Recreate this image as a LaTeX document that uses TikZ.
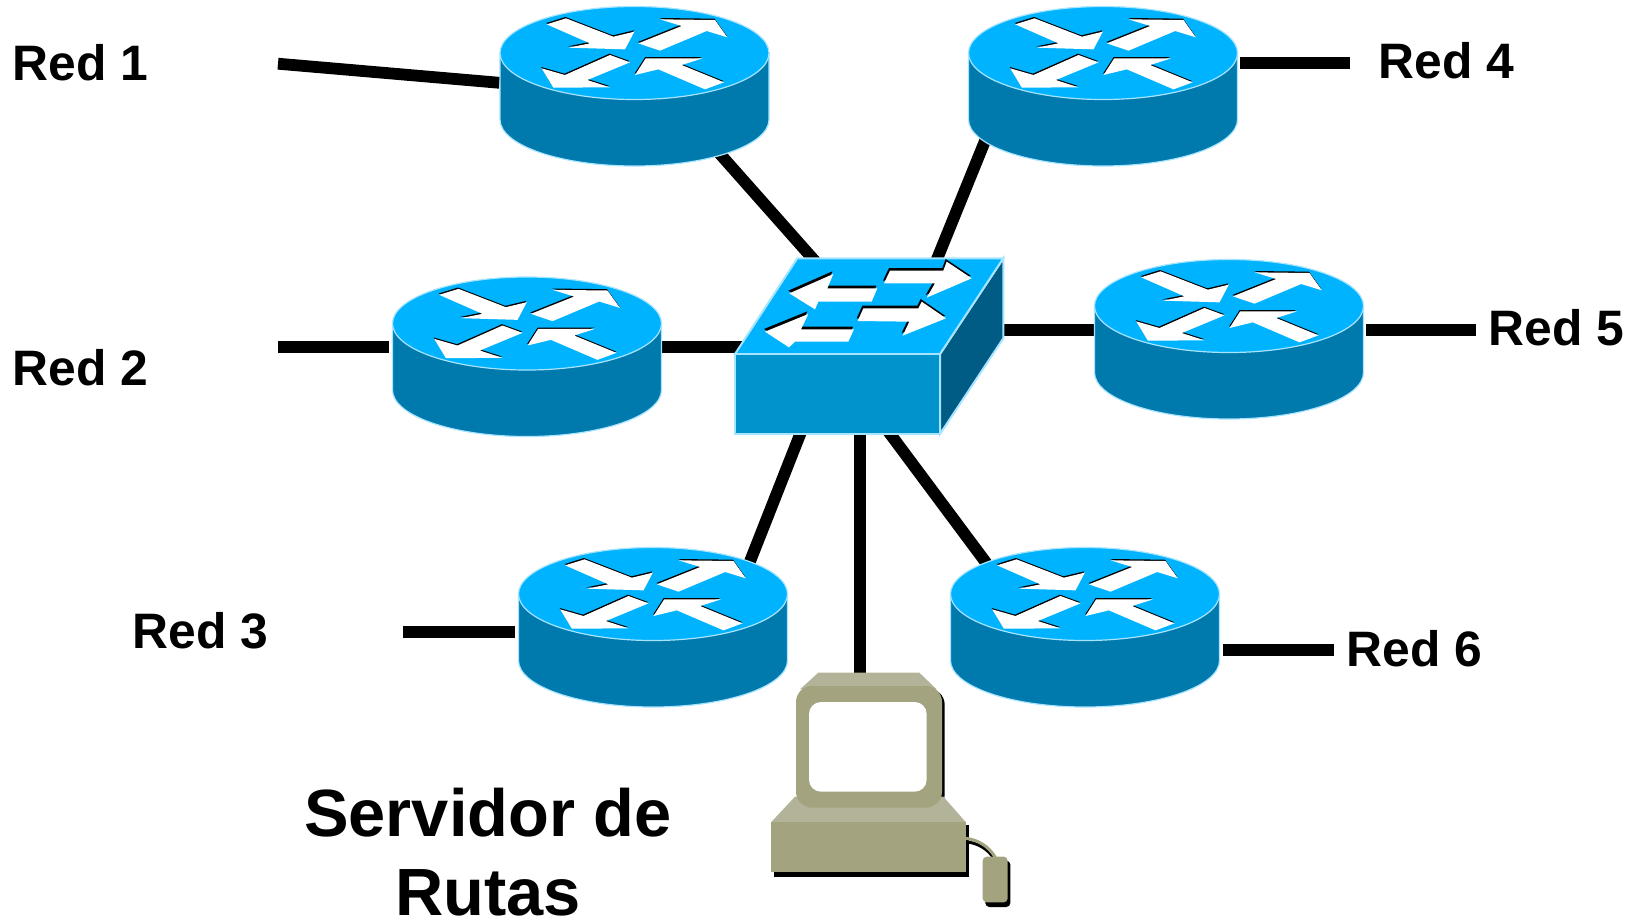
\documentclass[tikz,border=0pt]{standalone}
\usepackage{fontspec}
\setmainfont{Liberation Sans}
\usetikzlibrary{calc}
\definecolor{topblue}{HTML}{00B3FF}
\definecolor{sideblue}{HTML}{0079AD}
\definecolor{frontblue}{HTML}{0093CC}
\definecolor{darkblue}{HTML}{005B85}
\definecolor{edgeblue}{HTML}{A6E4FF}
\definecolor{pclight}{HTML}{B3B399}
\definecolor{pcdark}{HTML}{A3A380}
\newcommand{\flecha}[1]{\fill[black,shift={(-1.5,-4)}] #1 -- cycle; \fill[white] #1 -- cycle;}
\newcommand{\flechab}[1]{\fill[black,shift={(-3,-8)}] #1 -- cycle; \fill[white] #1 -- cycle;}
\tikzset{
 x=0.5pt,y=-0.5pt,
 wire/.style={line width=5.9pt,black},
 routerbox/.style={minimum width=134.5pt,minimum height=79.5pt,inner sep=0pt},
 netlabel/.style={anchor=base west,inner sep=0pt,font=\fontsize{24.9}{29}\selectfont\bfseries},
 srvlabel/.style={anchor=base,inner sep=0pt,font=\fontsize{33.4}{40}\selectfont},
 routericon/.pic={
  \filldraw[fill=sideblue,draw=edgeblue,line width=0.6pt] (-134.5,0) -- (-134.5,66.5) arc[start angle=180,end angle=0,x radius=134.5,y radius=46.5] -- (134.5,0) -- cycle;
  \filldraw[fill=topblue,draw=edgeblue,line width=0.6pt] (0,0) ellipse[x radius=134.5,y radius=46.5];
  \begin{scope}[scale=1/3,shift={(-463.5,-159)}]
  \flecha{(200,73) -- (258,55) -- (400,110) -- (463,95) -- (435,148) -- (265,143) -- (330,130)}
  \flecha{(475,130) -- (605,78) -- (540,58) -- (705,60) -- (742,112) -- (680,93) -- (540,152)}
  \flecha{(450,187) -- (390,165) -- (255,225) -- (185,205) -- (220,263) -- (390,262) -- (322,240)}
  \flecha{(465,225) -- (497,175) -- (668,175) -- (605,195) -- (732,247) -- (675,268) -- (535,208)}
  \end{scope}
 }
}
\begin{document}
\begin{tikzpicture}
\useasboundingbox (0,0) rectangle (1638,922);
% invisible named nodes
\node[routerbox] (r1) at (634.5,86) {};
\node[routerbox] (r2) at (527,356.5) {};
\node[routerbox] (r3) at (653,627) {};
\node[routerbox] (r4) at (1103,86) {};
\node[routerbox] (r5) at (1229,339) {};
\node[routerbox] (r6) at (1085,627) {};
\node[minimum width=134pt,minimum height=88pt,inner sep=0pt] (sw) at (869,346) {};
\node[minimum width=120pt,minimum height=118pt,inner sep=0pt] (srv) at (890,790) {};
\coordinate (n1) at (278,63.7);
\coordinate (n2) at (278,347);
\coordinate (n3) at (403,632);
\coordinate (n4) at (1350,63);
\coordinate (n5) at (1476,330);
\coordinate (n6) at (1334,650);
% connectors
\draw[wire] (n1) -- ([shift={(-135,-3.2)}]r1.center);
\draw[wire] (n2) -- ([shift={(-138,-9.5)}]r2.center);
\draw[wire] (n3) -- ([shift={(-138,5)}]r3.center);
\draw[wire] (n4) -- ([shift={(137,-23)}]r4.center);
\draw[wire] (n5) -- ([shift={(137,-9)}]r5.center);
\draw[wire] (n6) -- ([shift={(138,23)}]r6.center);
\draw[wire] ([shift={(82.5,64.6)}]r1.center) -- ([shift={(-52,-82.6)}]sw.center);
\draw[wire] ([shift={(-116,50)}]r4.center) -- ([shift={(66,-82)}]sw.center);
\draw[wire] ([shift={(130,-9.5)}]r2.center) -- ([shift={(-120,1)}]sw.center);
\draw[wire] ([shift={(125,-16)}]sw.center) -- ([shift={(-130,-9)}]r5.center);
\draw[wire] ([shift={(-68,86)}]sw.center) -- ([shift={(94,-58)}]r3.center);
\draw[wire] ([shift={(-9,86)}]sw.center) -- ([shift={(-30,-114)}]srv.center);
\draw[wire] ([shift={(19,85)}]sw.center) -- ([shift={(-95,-59)}]r6.center);
% routers
\pic at (634.5,53) {routericon};
\pic at (527,323.5) {routericon};
\pic at (653,594) {routericon};
\pic at (1103,53) {routericon};
\pic at (1229,306) {routericon};
\pic at (1085,594) {routericon};
% switch
\begin{scope}[line width=1pt]
\filldraw[fill=darkblue,draw=edgeblue] (940,354) -- (1003.3,258.3) -- (1003.3,338.3) -- (940,434) -- cycle;
\filldraw[fill=topblue,draw=edgeblue] (735,354) -- (797.3,258.3) -- (1003.3,258.3) -- (940,354) -- cycle;
\filldraw[fill=frontblue,draw=edgeblue] (735,354) rectangle (940,434);
\end{scope}
\begin{scope}[shift={(720,250)},scale=1/3]
\flechab{(208,130) -- (340,72) -- (322,115) -- (472,115) -- (455,155) -- (295,155) -- (285,178)}
\flechab{(492,100) -- (510,62) -- (670,62) -- (680,35) -- (755,85) -- (620,143) -- (645,100)}
\flechab{(135,245) -- (265,192) -- (243,238) -- (402,238) -- (385,275) -- (225,275) -- (207,292)}
\flechab{(413,213) -- (430,175) -- (595,175) -- (605,155) -- (678,205) -- (548,257) -- (568,215)}
\end{scope}
% server
\begin{scope}[shift={(760,660)},scale=1/3]
\fill[black,rounded corners=8pt] (116,86) rectangle (554,451);
\fill[black] (42,495) rectangle (627,650);
\fill[black,rounded corners=2pt] (676,602) rectangle (751,741);
\draw[black,line width=1.5pt] (618,545) .. controls (655,550) and (680,565) .. (700,592);
\fill[pclight] (175,38) -- (478,38) -- (530,88) -- (120,88) -- cycle;
\fill[pclight] (105,410) -- (550,410) -- (618,487) -- (33,487) -- cycle;
\fill[pcdark,rounded corners=8pt] (108,78) rectangle (546,443);
\fill[white,rounded corners=6pt] (147,126) rectangle (500,395);
\fill[pcdark] (33,487) rectangle (618,635);
\draw[pcdark,line width=1.5pt] (618,535) .. controls (655,540) and (685,558) .. (706,592);
\fill[pcdark,rounded corners=2pt] (668,590) rectangle (743,727);
\end{scope}
% labels
\node[netlabel] (t1) at (12,80.5) {Red 1};
\node[netlabel] (t2) at (12,385.5) {Red 2};
\node[netlabel] (t3) at (132,648) {Red 3};
\node[netlabel] (t4) at (1378,78.5) {Red 4};
\node[netlabel] (t5) at (1488,345) {Red 5};
\node[netlabel] (t6) at (1346,666) {Red 6};
\node[srvlabel] (t7) at (488,836) {\bfseries Servidor de};
\node[srvlabel] (t8) at (488,915) {\bfseries Rutas};
\end{tikzpicture}
\end{document}
